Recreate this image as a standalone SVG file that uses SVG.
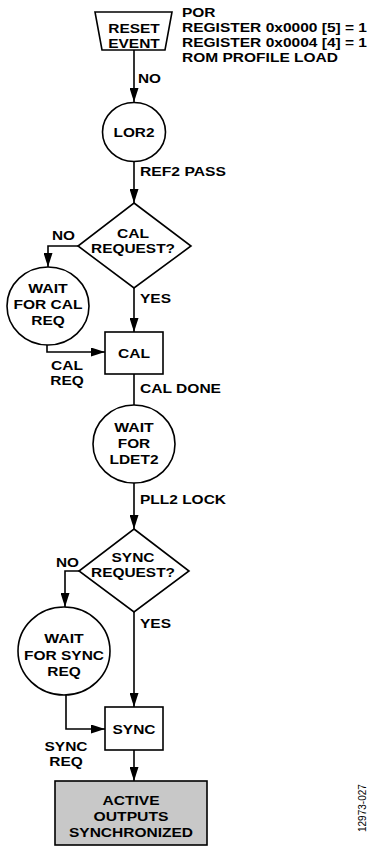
<svg xmlns="http://www.w3.org/2000/svg" width="375" height="850" viewBox="0 0 375 850">
<style>
.s{fill:#fff;stroke:#000;stroke-width:1.6}
.g{fill:#c8c8c8;stroke:#000;stroke-width:1.6}
.c{fill:none;stroke:#000;stroke-width:1.6}
text{font-family:"Liberation Sans",Arial,sans-serif;font-weight:bold;font-size:13px;fill:#000}
.m{text-anchor:middle}
.id{font-weight:normal;font-size:10px}
</style>
<defs>
<marker id="ah" viewBox="0 0 14 9" refX="14" refY="4.5" markerWidth="14" markerHeight="9" markerUnits="userSpaceOnUse" orient="auto"><path d="M0,0 L14,4.5 L0,9 z" fill="#000"/></marker>
</defs>
<g id="connectors">
<path class="c" d="M134,50 V102" marker-end="url(#ah)"/>
<path class="c" d="M134,161 V203" marker-end="url(#ah)"/>
<path class="c" d="M78,246 H48 V267" marker-end="url(#ah)"/>
<path class="c" d="M134,288 V332" marker-end="url(#ah)"/>
<path class="c" d="M47,345 V352 H105" marker-end="url(#ah)"/>
<path class="c" d="M134,374 V405"/>
<path class="c" d="M134,483 V529" marker-end="url(#ah)"/>
<path class="c" d="M79,571 H65 V607" marker-end="url(#ah)"/>
<path class="c" d="M134,612 V707" marker-end="url(#ah)"/>
<path class="c" d="M66,695 V729 H105" marker-end="url(#ah)"/>
<path class="c" d="M134,750 V781" marker-end="url(#ah)"/>
<text x="138" y="83" textLength="23" lengthAdjust="spacingAndGlyphs">NO</text>
<text x="140" y="176" textLength="86" lengthAdjust="spacingAndGlyphs">REF2 PASS</text>
<text x="52" y="240" textLength="23" lengthAdjust="spacingAndGlyphs">NO</text>
<text x="140" y="303" textLength="31" lengthAdjust="spacingAndGlyphs">YES</text>
<text class="m" x="67" y="370" textLength="32" lengthAdjust="spacingAndGlyphs">CAL</text>
<text class="m" x="67" y="385" textLength="33.5" lengthAdjust="spacingAndGlyphs">REQ</text>
<text x="140" y="393" textLength="81" lengthAdjust="spacingAndGlyphs">CAL DONE</text>
<text x="140" y="504" textLength="86" lengthAdjust="spacingAndGlyphs">PLL2 LOCK</text>
<text x="56" y="567" textLength="23" lengthAdjust="spacingAndGlyphs">NO</text>
<text x="140" y="628" textLength="31" lengthAdjust="spacingAndGlyphs">YES</text>
<text class="m" x="66" y="751" textLength="43" lengthAdjust="spacingAndGlyphs">SYNC</text>
<text class="m" x="66" y="766" textLength="33.5" lengthAdjust="spacingAndGlyphs">REQ</text>
</g>
<g id="reset">
<path class="s" d="M95,12 H172 L165,50 H102 Z"/>
<text class="m" x="134" y="33" textLength="51.5" lengthAdjust="spacingAndGlyphs">RESET</text>
<text class="m" x="134" y="48" textLength="51.5" lengthAdjust="spacingAndGlyphs">EVENT</text>
</g>
<g id="note">
<text x="182" y="17" textLength="33.5" lengthAdjust="spacingAndGlyphs">POR</text>
<text x="182" y="32" textLength="185" lengthAdjust="spacingAndGlyphs">REGISTER 0x0000 [5] = 1</text>
<text x="182" y="47" textLength="185" lengthAdjust="spacingAndGlyphs">REGISTER 0x0004 [4] = 1</text>
<text x="182" y="62" textLength="156" lengthAdjust="spacingAndGlyphs">ROM PROFILE LOAD</text>
</g>
<g id="lor2">
<ellipse class="s" cx="134" cy="132" rx="31.5" ry="29.5"/>
<text class="m" x="134" y="137" textLength="41" lengthAdjust="spacingAndGlyphs">LOR2</text>
</g>
<g id="calreq">
<path class="s" d="M134,203 L191,246 L134,288 L78,246 Z"/>
<text class="m" x="133" y="238" textLength="32" lengthAdjust="spacingAndGlyphs">CAL</text>
<text class="m" x="133" y="253" textLength="84" lengthAdjust="spacingAndGlyphs">REQUEST?</text>
</g>
<g id="waitcal">
<ellipse class="s" cx="48" cy="306" rx="41" ry="39"/>
<text class="m" x="48" y="293" textLength="39.5" lengthAdjust="spacingAndGlyphs">WAIT</text>
<text class="m" x="48" y="309" textLength="69" lengthAdjust="spacingAndGlyphs">FOR CAL</text>
<text class="m" x="48" y="325" textLength="33.5" lengthAdjust="spacingAndGlyphs">REQ</text>
</g>
<g id="cal">
<rect class="s" x="105" y="332" width="58" height="42"/>
<text class="m" x="134" y="358" textLength="32" lengthAdjust="spacingAndGlyphs">CAL</text>
</g>
<g id="waitldet">
<ellipse class="s" cx="134" cy="444" rx="41" ry="39"/>
<text class="m" x="134" y="432" textLength="39.5" lengthAdjust="spacingAndGlyphs">WAIT</text>
<text class="m" x="134" y="448" textLength="32.5" lengthAdjust="spacingAndGlyphs">FOR</text>
<text class="m" x="134" y="464" textLength="49" lengthAdjust="spacingAndGlyphs">LDET2</text>
</g>
<g id="syncreq">
<path class="s" d="M134,529 L189,571 L134,612 L79,571 Z"/>
<text class="m" x="133" y="562" textLength="43" lengthAdjust="spacingAndGlyphs">SYNC</text>
<text class="m" x="133" y="577" textLength="84" lengthAdjust="spacingAndGlyphs">REQUEST?</text>
</g>
<g id="waitsync">
<ellipse class="s" cx="64" cy="651" rx="46" ry="44"/>
<text class="m" x="64" y="643" textLength="39.5" lengthAdjust="spacingAndGlyphs">WAIT</text>
<text class="m" x="64" y="660" textLength="80" lengthAdjust="spacingAndGlyphs">FOR SYNC</text>
<text class="m" x="64" y="676" textLength="33.5" lengthAdjust="spacingAndGlyphs">REQ</text>
</g>
<g id="sync">
<rect class="s" x="105" y="707" width="58" height="43"/>
<text class="m" x="134" y="734" textLength="43" lengthAdjust="spacingAndGlyphs">SYNC</text>
</g>
<g id="active">
<rect class="g" x="55" y="781" width="152" height="64"/>
<text class="m" x="131" y="805" textLength="57" lengthAdjust="spacingAndGlyphs">ACTIVE</text>
<text class="m" x="131" y="821" textLength="75" lengthAdjust="spacingAndGlyphs">OUTPUTS</text>
<text class="m" x="131" y="837" textLength="124" lengthAdjust="spacingAndGlyphs">SYNCHRONIZED</text>
</g>
<text class="id" transform="translate(366,832) rotate(-90)">12973-027</text>
</svg>
